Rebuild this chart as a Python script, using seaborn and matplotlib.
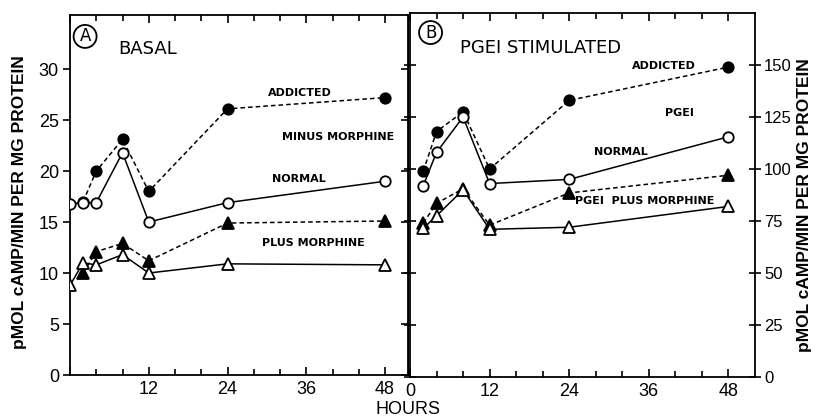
import numpy as np
import pandas as pd
import matplotlib
matplotlib.use("Agg")
import matplotlib.pyplot as plt
import seaborn as sns

# Panel A - basal
hours_a0 = [0, 2, 4, 8, 12, 24, 48]
hours_a2 = [2, 4, 8, 12, 24, 48]
basal_normal = [16.8, 16.9, 16.9, 21.8, 15.0, 16.9, 19.0]
basal_addicted = [17.0, 20.0, 23.1, 18.0, 26.1, 27.2]
basal_normal_morph = [8.8, 11.0, 10.8, 11.8, 10.0, 10.9, 10.8]
basal_addicted_morph = [10.0, 12.1, 12.9, 11.2, 14.9, 15.1]

# Panel B - PGE1 stimulated
hours_b = [2, 4, 8, 12, 24, 48]
pge_addicted = [99, 118, 127.5, 100, 133, 149]
pge_normal = [92, 108, 125, 93, 95, 115.5]
pge_addicted_morph = [74, 83.5, 90.5, 73, 88.5, 97]
pge_normal_morph = [71.5, 77.5, 90, 71, 72, 82]

left_yticks = [0, 5, 10, 15, 20, 25, 30]
right_yticks = [0, 25, 50, 75, 100, 125, 150]
hour_ticks = [0, 12, 24, 36, 48]

sns.set_style("ticks")
plt.rcParams['font.family'] = ['Liberation Sans', 'DejaVu Sans']
for k in ('text.color', 'axes.labelcolor', 'xtick.color', 'ytick.color',
          'axes.edgecolor'):
    plt.rcParams[k] = 'black'

fig = plt.figure(figsize=(8.13, 4.19), dpi=100)
ax1 = fig.add_axes([70/813, 1-375/419, 338/813, 360/419])
ax2 = fig.add_axes([410/813, 1-377/419, 345/813, 364/419])

dash = (0, (3, 2))


def draw(ax, x, y, filled, mk):
    sns.lineplot(x=x, y=y, ax=ax, color='black', lw=1.1,
                 linestyle=dash if filled else '-',
                 marker=mk, markersize=7.5 if mk == 'o' else 9,
                 markerfacecolor='black' if filled else 'white',
                 markeredgecolor='black', markeredgewidth=1.3,
                 zorder=3 if filled else 4)


draw(ax1, hours_a2, basal_addicted, True, 'o')
draw(ax1, hours_a0, basal_normal, False, 'o')
draw(ax1, hours_a2, basal_addicted_morph, True, '^')
draw(ax1, hours_a0, basal_normal_morph, False, '^')

draw(ax2, hours_b, pge_addicted, True, 'o')
draw(ax2, hours_b, pge_normal, False, 'o')
draw(ax2, hours_b, pge_addicted_morph, True, '^')
draw(ax2, hours_b, pge_normal_morph, False, '^')

ax1.set_xlim(0, 51.5)
ax1.set_ylim(0, 35.3)
ax2.set_xlim(0, 52)
ax2.set_ylim(0, 175)

for ax in (ax1, ax2):
    for s in ax.spines.values():
        s.set_linewidth(1.3)
    ax.set_xticks(np.arange(0, 52, 4), minor=True)
    ax.tick_params(axis='x', which='both', direction='in', top=True,
                   bottom=True, labelsize=13, width=1.2)
    ax.tick_params(axis='x', which='major', length=6, pad=4)
    ax.tick_params(axis='x', which='minor', length=4)
    ax.set_xlabel('')
    ax.set_ylabel('')

ax1.set_xticks(hour_ticks, [''] + [str(h) for h in hour_ticks[1:]])
ax2.set_xticks(hour_ticks, [str(h) for h in hour_ticks])

ax1.set_yticks(left_yticks, [str(v) for v in left_yticks])
ax1.tick_params(axis='y', direction='out', length=5, width=1.2,
                labelsize=13, pad=3)
sec = ax1.secondary_yaxis('right')
sec.set_yticks(left_yticks)
sec.tick_params(axis='y', direction='in', length=5, width=1.2,
                labelright=False)

ax2.set_yticks(right_yticks, [str(v) for v in right_yticks])
ax2.tick_params(axis='y', direction='inout', length=9, width=1.2,
                left=True, right=True, labelleft=False, labelright=True,
                labelsize=12, pad=2)

# panel texts
circ = dict(boxstyle='circle,pad=0.15', fc='none', ec='black', lw=1.3)
ax1.text(2.3, 33.2, 'A', fontsize=12, ha='center', va='center', bbox=circ,
         family='DejaVu Sans')
ax1.text(7.3, 32.0, 'BASAL', fontsize=13, ha='left', va='center',
         family='DejaVu Sans')
small = dict(fontsize=8, fontweight='bold', ha='center', va='center',
             family='DejaVu Sans')
ax1.text(35.1, 27.7, 'ADDICTED', **small)
ax1.text(40.8, 23.3, 'MINUS MORPHINE', **small)
ax1.text(34.8, 19.2, 'NORMAL', **small)
ax1.text(37.1, 12.9, 'PLUS MORPHINE', **small)

ax2.text(3.1, 165.6, 'B', fontsize=12, ha='center', va='center', bbox=circ,
         family='DejaVu Sans')
ax2.text(7.5, 158.4, 'PGEI STIMULATED', fontsize=13, ha='left', va='center',
         family='DejaVu Sans')
ax2.text(38.3, 149.5, 'ADDICTED', **small)
ax2.text(40.6, 126.7, 'PGEI', **small)
ax2.text(31.8, 108, 'NORMAL', **small)
ax2.text(35.3, 84.6, 'PGEI  PLUS MORPHINE', **small)

ylab = 'pMOL cAMP/MIN PER MG PROTEIN'
fig.text(20/813, 1-202/419, ylab, rotation=90, ha='center', va='center',
         fontsize=12.5, fontweight='bold')
fig.text(804/813, 1-205/419, ylab, rotation=90, ha='center', va='center',
         fontsize=12.5, fontweight='bold')
fig.text(408/813, 1-409/419, 'HOURS', ha='center', va='center', fontsize=13)

fig.savefig('out.png', dpi=100)
